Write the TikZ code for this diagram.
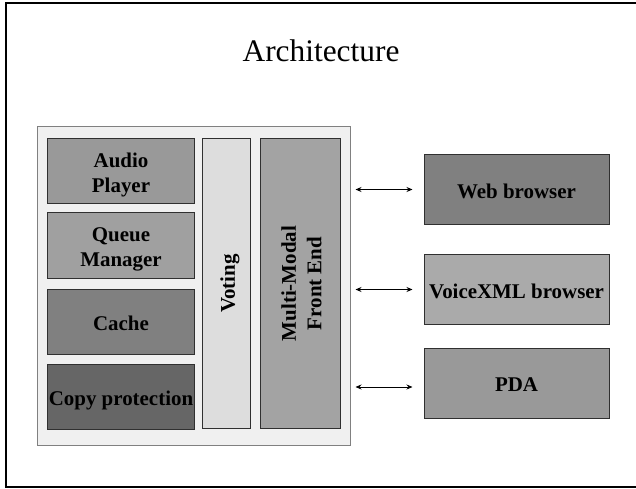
\documentclass[tikz,border=0pt]{standalone}
\usepackage{fontspec}
\setmainfont{Liberation Serif}
\usetikzlibrary{arrows.meta}

\definecolor{panelfill}{HTML}{F0F0F0}
\definecolor{panelline}{HTML}{808080}
\definecolor{boxline}{HTML}{303030}

\tikzset{
  x=1bp, y=-1bp,
  panel/.style={draw=panelline, line width=1bp, fill=panelfill, inner sep=0pt},
  block/.style={draw=boxline, line width=1bp, inner sep=0pt, align=center,
    font=\fontsize{21}{25.5}\selectfont\bfseries, text=black},
  % vertical placement of the label inside its box
  oneline/.style={text height=17.5bp, text depth=0bp},
  twoline/.style={text height=42.6bp, text depth=0bp},
  link/.style={{Stealth[length=6bp,width=5bp]}-{Stealth[length=6bp,width=5bp]},
    line width=0.8bp, black},
  frame/.style={line width=2bp, black}
}

\begin{document}
\begin{tikzpicture}
  \useasboundingbox (0,0) rectangle (636,489);

  % page frame (open on the right)
  \draw[frame] (636,3.5) -- (5.5,3.5) -- (5.5,487) -- (636,487);

  % title
  \node[font=\fontsize{31.5}{36}\selectfont, anchor=base] (title) at (321,62) {Architecture};

  % server-side panel
  \node[panel, minimum width=312bp, minimum height=318bp] (outer) at (194,286) {};

  \node[block, twoline, fill={rgb,255:red,153;green,153;blue,153}, minimum width=146bp, minimum height=65bp] (audio) at (121,171.5) {Audio\\Player};
  \node[block, twoline, fill={rgb,255:red,160;green,160;blue,160}, minimum width=146bp, minimum height=65bp] (queue) at (121,245.5) {Queue\\Manager};
  \node[block, oneline, fill={rgb,255:red,128;green,128;blue,128}, minimum width=146bp, minimum height=65bp] (cache) at (121,321.5) {Cache};
  \node[block, oneline, fill={rgb,255:red,102;green,102;blue,102}, minimum width=146bp, minimum height=65bp] (copy) at (121,397) {Copy protection};

  \node[block, oneline, fill={rgb,255:red,221;green,221;blue,221}, rotate=90, minimum width=289bp, minimum height=48bp] (voting) at (226,283.5) {Voting};
  \node[block, twoline, fill={rgb,255:red,163;green,163;blue,163}, rotate=90, minimum width=289bp, minimum height=80bp] (mmfe) at (300,283.5) {Multi-Modal\\Front End};

  % client devices
  \node[block, oneline, fill={rgb,255:red,128;green,128;blue,128}, minimum width=185bp, minimum height=69bp] (web) at (516.5,189.5) {Web browser};
  \node[block, oneline, fill={rgb,255:red,170;green,170;blue,170}, minimum width=185bp, minimum height=69bp] (voice) at (516.5,289.5) {VoiceXML browser};
  \node[block, oneline, fill={rgb,255:red,153;green,153;blue,153}, minimum width=185bp, minimum height=70bp] (pda) at (516.5,383) {PDA};

  % connections
  \draw[link, shorten <=5bp, shorten >=11bp] (outer.east |- web) -- (web.west);
  \draw[link, shorten <=5bp, shorten >=11bp] (outer.east |- voice) -- (voice.west);
  \draw[link, shorten <=5bp, shorten >=11bp] ([yshift=-4bp]outer.east |- pda) -- ([yshift=-4bp]pda.west);
\end{tikzpicture}
\end{document}
